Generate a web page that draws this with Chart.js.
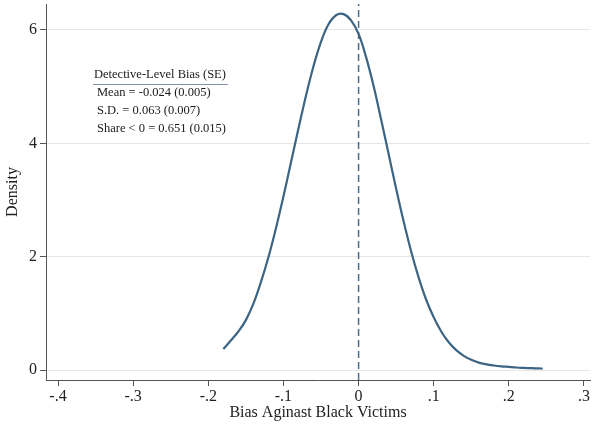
<!DOCTYPE html>
<html>
<head>
<meta charset="utf-8">
<script src="https://cdn.jsdelivr.net/npm/chart.js@4.4.1/dist/chart.umd.min.js"></script>
<style>
  html, body { margin: 0; padding: 0; background: #ffffff; }
  #wrap { width: 592px; height: 428px; position: relative; }
</style>
</head>
<body>
<div id="wrap"><canvas id="c" width="592" height="428"></canvas></div>
<script>
// ---- data ----
const biasValues = [-0.18, -0.17, -0.16, -0.15, -0.14, -0.13, -0.12, -0.11, -0.10, -0.09,
  -0.08, -0.07, -0.06, -0.05, -0.04, -0.03, -0.02, -0.01, 0.00, 0.01,
  0.02, 0.03, 0.04, 0.05, 0.06, 0.07, 0.08, 0.09, 0.10, 0.11,
  0.12, 0.13, 0.14, 0.15, 0.16, 0.17, 0.18, 0.19, 0.20, 0.21,
  0.22, 0.23, 0.24, 0.245];
const densityValues = [0.37, 0.52, 0.68, 0.88, 1.17, 1.55, 1.99, 2.50, 3.06, 3.66,
  4.26, 4.84, 5.36, 5.79, 6.10, 6.26, 6.28, 6.17, 5.93, 5.52,
  5.01, 4.42, 3.81, 3.20, 2.62, 2.09, 1.63, 1.24, 0.93, 0.68,
  0.49, 0.35, 0.25, 0.18, 0.13, 0.10, 0.08, 0.065, 0.055, 0.045,
  0.038, 0.032, 0.028, 0.026];
const zeroLineX = [0, 0];
const xTickValues = [-0.4, -0.3, -0.2, -0.1, 0, 0.1, 0.2, 0.3];
const yTickValues = [0, 2, 4, 6];
const xAxisTitle = "Bias Aginast Black Victims";
const yAxisTitle = "Density";
const boxTitle = "Detective-Level Bias (SE)";
const boxLines = ["Mean = -0.024 (0.005)", "S.D. = 0.063 (0.007)", "Share < 0 = 0.651 (0.015)"];

const X_MIN = -0.416, X_MAX = 0.308, Y_MIN = -0.176, Y_MAX = 6.458;

const curvePoints = biasValues.map((x, i) => ({ x: x, y: densityValues[i] }));
const zeroPoints = [{ x: zeroLineX[0], y: Y_MIN }, { x: zeroLineX[1], y: Y_MAX }];

function fmtTick(v) {
  if (Math.abs(v) < 1e-9) return "0";
  let s = (Math.round(v * 10) / 10).toString();
  return s.replace(/^(-?)0\./, "$1.");
}

const SERIF = "'Liberation Serif', 'DejaVu Serif', serif";

const textBoxPlugin = {
  id: 'textBox',
  afterDraw(chart) {
    const ctx = chart.ctx;
    const a = chart.chartArea;
    const x0 = a.left + 47;
    ctx.save();
    ctx.font = "12.5px " + SERIF;
    ctx.fillStyle = "#1a1a1a";
    ctx.textBaseline = "middle";
    ctx.textAlign = "left";
    const w = ctx.measureText(boxTitle).width;
    ctx.fillText(boxTitle, x0 + 1, 75);
    ctx.strokeStyle = "#7d93a8";
    ctx.lineWidth = 1;
    ctx.beginPath();
    ctx.moveTo(x0, 84.5);
    ctx.lineTo(x0 + w + 3, 84.5);
    ctx.stroke();
    boxLines.forEach((t, i) => {
      ctx.fillText(t, x0 + 4, 93 + i * 17.8);
    });
    ctx.restore();
  }
};

new Chart(document.getElementById('c'), {
  type: 'scatter',
  data: {
    datasets: [
      {
        data: curvePoints,
        showLine: true,
        borderColor: '#3d6482',
        borderWidth: 2.2,
        pointRadius: 0,
        tension: 0.4,
        fill: false
      },
      {
        data: zeroPoints,
        showLine: true,
        borderColor: '#4d6c86',
        borderWidth: 1.5,
        borderDash: [7, 4],
        pointRadius: 0,
        fill: false
      }
    ]
  },
  options: {
    responsive: false,
    animation: false,
    devicePixelRatio: 1,
    layout: { padding: { top: 4, right: 2, left: 0, bottom: 0 } },
    plugins: { legend: { display: false }, tooltip: { enabled: false } },
    scales: {
      x: {
        type: 'linear',
        min: X_MIN, max: X_MAX,
        afterBuildTicks(scale) { scale.ticks = xTickValues.map(v => ({ value: v })); },
        afterFit(scale) { scale.height = 48; scale.paddingLeft = 0; scale.paddingRight = 0; },
        ticks: {
          callback: (v) => fmtTick(v),
          font: { family: SERIF, size: 16 },
          color: '#222',
          padding: 1,
          maxRotation: 0,
          autoSkip: false
        },
        grid: { drawOnChartArea: false, drawTicks: true, tickLength: 6, tickColor: '#555', tickWidth: 1 },
        border: { display: true, color: '#555', width: 1 },
        title: {
          display: true, text: xAxisTitle,
          font: { family: SERIF, size: 16 }, color: '#222',
          padding: { top: 0, bottom: 6 }
        }
      },
      y: {
        type: 'linear',
        min: Y_MIN, max: Y_MAX,
        afterBuildTicks(scale) { scale.ticks = yTickValues.map(v => ({ value: v })); },
        afterFit(scale) { scale.width = 46; scale.paddingTop = 0; scale.paddingBottom = 0; },
        ticks: {
          callback: (v) => String(v),
          font: { family: SERIF, size: 16 },
          color: '#222',
          padding: 3,
          autoSkip: false
        },
        grid: { color: '#e6e6e6', lineWidth: 1, drawTicks: true, tickLength: 6, tickColor: '#555', tickWidth: 1 },
        border: { display: true, color: '#555', width: 1 },
        title: {
          display: true, text: yAxisTitle,
          font: { family: SERIF, size: 16 }, color: '#222',
          padding: { top: 3, bottom: 0 }
        }
      }
    }
  },
  plugins: [textBoxPlugin]
});
</script>
</body>
</html>
